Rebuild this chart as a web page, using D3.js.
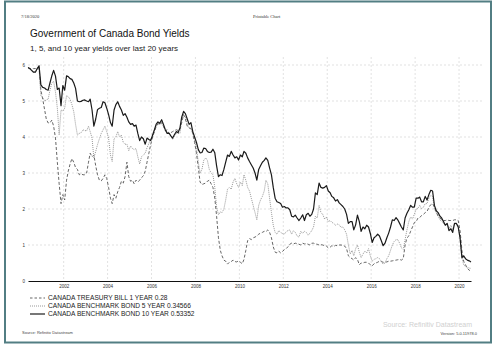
<!DOCTYPE html>
<html>
<head>
<meta charset="utf-8">
<script src="https://cdn.jsdelivr.net/npm/d3@7"></script>
<style>
  body { margin: 0; background: #fff; }
  svg { display: block; font-family: "Liberation Sans", Arial, sans-serif; }
</style>
</head>
<body>
<svg id="svg"></svg>
<script>
var width = 500;
var height = 353;

// monthly readings, May 2000 .. Jul 2020
var startDate = new Date(2000, 4, 18);

var yield10 = [
  5.93,5.9,5.85,5.8,5.8,5.9,5.98,5.45,5.38,5.36, 5.32,5.3,5.5,5.7,5.85,5.69,5.32,5.36,4.87,5.43,
  5.3,5.7,5.68,5.62,5.6,5.5,5.35,5.0,4.98,4.99, 5.02,5.03,5.0,4.98,5.05,4.75,4.3,4.5,4.76,4.8,
  4.82,4.98,4.95,4.8,4.62,4.4,4.3,4.75,
  4.9,4.98,4.85,4.75,4.6,4.65,4.55,4.42,4.35,4.37, 4.3,4.33,4.1,3.9,4.0,3.95,3.8,3.97,3.93,3.9,
  4.05,4.2,4.35,4.42,4.38,4.48,4.35,4.2,4.1,4.11, 4.03,3.97,4.07,4.15,4.12,4.25,4.55,4.71,4.65,4.5,
  4.35,4.4,4.15,4.0,3.85,3.65,3.56,3.57,
  3.69,3.68,3.6,3.57,3.58,3.66,3.56,3.2,2.9,2.95, 2.93,3.1,3.3,3.5,3.46,3.6,3.5,3.42,3.45,3.36,
  3.5,3.45,3.6,3.55,3.42,3.32,3.23,3.14,3.0,2.8, 3.1,3.2,3.3,3.35,3.42,3.35,3.14,2.95,2.6,2.3,
  2.2,2.18,2.15,2.05,2.07,2.03,2.03,1.98,
  1.8,1.78,1.83,1.75,1.68,1.75,1.84,1.68,1.84,1.88, 1.8,1.85,2.0,2.45,2.4,2.72,2.6,2.58,2.6,2.65,
  2.5,2.45,2.35,2.31,2.22,2.26,2.17,2.12,2.07,2.0, 1.85,1.6,1.65,1.65,1.42,1.56,1.83,1.65,1.38,1.5,
  1.45,1.55,1.5,1.32,1.07,1.2,1.24,1.3,
  1.25,1.12,0.98,1.05,1.2,1.33,1.5,1.7,1.68,1.76, 1.7,1.6,1.5,1.42,1.75,1.88,1.98,2.1,2.05,2.05,
  2.3,2.3,2.33,2.2,2.2,2.35,2.25,2.4,2.52,2.5, 2.1,1.95,1.9,1.8,1.75,1.65,1.55,1.6,1.4,1.45,
  1.35,1.6,1.6,1.5,1.2,0.65,0.7,0.62,0.58,0.56, 0.53
];

var yield5 = [
  5.92,5.88,5.84,5.8,5.82,5.88,5.9,5.15,5.1,5.0, 5.03,5.05,5.3,5.5,5.55,5.25,4.8,4.06,4.75,4.72,
  4.8,5.15,5.12,5.05,4.9,4.7,4.35,4.05,4.1,4.12, 4.2,4.18,4.17,4.3,4.15,3.97,3.42,3.6,3.79,3.95,
  4.1,4.2,4.3,4.15,3.97,3.5,3.32,3.95,
  4.0,4.15,4.0,4.05,3.85,3.8,3.8,3.62,3.75,3.68, 3.65,3.68,3.45,3.25,3.45,3.5,3.55,3.7,3.82,3.97,
  4.0,4.18,4.3,4.38,4.35,4.37,4.3,4.2,4.12,4.13, 4.02,3.93,4.03,4.1,4.1,4.1,4.45,4.62,4.55,4.35,
  4.25,4.25,4.1,3.9,3.7,3.3,3.0,3.1,
  3.35,3.42,3.35,3.1,3.0,2.95,2.6,2.05,1.84,1.92, 1.9,2.0,2.25,2.55,2.6,2.55,2.75,2.85,2.7,2.6,
  2.75,2.65,2.95,2.8,2.6,2.5,2.3,2.1,1.9,1.7, 2.1,2.25,2.35,2.5,2.8,2.7,2.3,1.9,1.55,1.35,
  1.3,1.4,1.35,1.32,1.3,1.37,1.4,1.42,
  1.3,1.4,1.35,1.25,1.22,1.38,1.32,1.38,1.35,1.27, 1.33,1.4,1.5,1.8,1.75,2.1,1.9,1.85,1.72,1.78,
  1.65,1.68,1.63,1.6,1.55,1.58,1.56,1.49,1.5,1.42, 1.3,1.0,0.75,0.85,0.7,0.9,1.0,0.8,0.65,0.75,
  0.83,0.78,0.9,0.7,0.55,0.6,0.62,0.65,
  0.62,0.55,0.47,0.5,0.62,0.7,0.85,1.0,1.1,1.15, 1.15,1.05,0.92,0.88,1.15,1.42,1.65,1.78,1.72,1.85,
  2.0,2.02,2.1,2.0,2.05,2.15,2.15,2.3,2.38,2.35, 2.0,1.9,1.8,1.7,1.65,1.6,1.55,1.6,1.45,1.55,
  1.42,1.6,1.58,1.55,1.2,0.65,0.45,0.4,0.38,0.36, 0.35
];

var yield1 = [
  5.92,5.9,5.9,5.9,5.9,5.92,5.92,5.3,5.05,4.76, 4.5,4.39,4.39,4.47,4.3,3.97,3.3,2.7,2.15,2.4,
  2.25,2.8,3.05,3.25,3.4,3.3,3.15,3.1,2.95,2.98, 2.95,2.95,3.0,3.3,3.55,3.45,3.5,3.2,2.95,2.8,
  2.78,2.85,2.95,2.85,2.6,2.3,2.15,2.4,
  2.3,2.48,2.6,2.77,2.72,2.9,3.3,2.9,2.77,2.8, 2.7,2.8,2.75,2.8,2.87,2.92,3.05,3.3,3.55,3.79,
  4.0,4.15,4.28,4.37,4.35,4.4,4.3,4.17,4.2,4.08, 4.12,4.15,4.18,4.2,4.18,4.2,4.4,4.62,4.5,4.3,
  4.25,4.23,4.1,3.85,3.55,3.15,2.75,2.68,
  2.7,2.72,2.77,2.8,2.7,2.6,2.3,1.8,1.2,0.85, 0.7,0.58,0.55,0.47,0.52,0.54,0.58,0.54,0.53,0.56,
  0.52,0.48,0.6,0.85,1.12,1.18,1.15,1.2,1.22,1.25, 1.3,1.33,1.35,1.38,1.37,1.42,1.35,1.2,0.95,0.8,
  0.78,0.83,0.78,0.82,0.87,0.9,0.95,1.02,
  1.05,1.03,1.05,1.04,1.02,1.0,1.05,1.03,1.04,1.02, 1.0,1.05,1.05,1.03,1.02,1.0,1.01,1.0,0.98,0.97,
  0.92,0.94,0.98,0.96,0.99,0.98,1.0,1.0,0.99,0.97, 0.9,0.7,0.65,0.62,0.58,0.65,0.6,0.45,0.5,0.5,
  0.52,0.52,0.5,0.45,0.42,0.48,0.5,0.52,
  0.55,0.54,0.52,0.52,0.53,0.55,0.55,0.56,0.57,0.58, 0.59,0.6,0.58,0.62,1.0,1.2,1.25,1.38,1.5,1.62,
  1.65,1.75,1.76,1.82,1.85,1.9,1.93,2.05,2.12,2.15, 2.05,1.92,1.8,1.75,1.7,1.68,1.68,1.7,1.68,1.68,
  1.68,1.7,1.7,1.68,1.4,0.85,0.55,0.45,0.35,0.3, 0.28
];

var dates = yield10.map((d, i) => d3.timeMonth.offset(startDate, i));

var yTicks = [0, 1, 2, 3, 4, 5, 6];
var xTickYears = [2002, 2004, 2006, 2008, 2010, 2012, 2014, 2016, 2018, 2020];

var series = [
  { name: "CANADA TREASURY BILL 1 YEAR 0.28", values: yield1, stroke: "#555", width: 0.9, dash: "3,2" },
  { name: "CANADA BENCHMARK BOND 5 YEAR 0.34566", values: yield5, stroke: "#8c8c8c", width: 0.9, dash: "1,1" },
  { name: "CANADA BENCHMARK BOND 10 YEAR 0.53352", values: yield10, stroke: "#1a1a1a", width: 1.2, dash: null }
];

var svg = d3.select("#svg")
    .attr("width", width)
    .attr("height", height)
    .attr("viewBox", [0, 0, width, height]);

// page frame
svg.append("rect")
    .attr("x", 5).attr("y", 1.5)
    .attr("width", 486).attr("height", 341)
    .attr("fill", "none")
    .attr("stroke", "#527e83")
    .attr("stroke-width", 2);

// header bits
svg.append("text").attr("x", 21).attr("y", 18)
    .attr("font-family", "Liberation Serif").attr("font-size", 4.5).attr("fill", "#333")
    .text("7/18/2020");
svg.append("text").attr("x", 253).attr("y", 18)
    .attr("font-family", "Liberation Serif").attr("font-size", 4.5).attr("fill", "#333")
    .text("Printable Chart");

svg.append("text").attr("x", 30).attr("y", 37)
    .attr("font-size", 10).attr("fill", "#111")
    .text("Government of Canada Bond Yields");
svg.append("text").attr("x", 30).attr("y", 51)
    .attr("font-size", 8).attr("fill", "#222")
    .text("1, 5, and 10 year yields over last 20 years");

// scales
var x = d3.scaleTime()
    .domain([dates[0], dates[dates.length - 1]])
    .range([28, 471]);
var y = d3.scaleLinear()
    .domain([0, 6])
    .range([281, 65]);

// grid
var grid = svg.append("g")
    .attr("stroke", "#cfcfcf")
    .attr("stroke-width", 0.6)
    .attr("stroke-dasharray", "2,2");
grid.selectAll(".hg")
  .data(yTicks.filter(d => d > 0))
  .join("line")
    .attr("x1", 28).attr("x2", 483)
    .attr("y1", d => y(d)).attr("y2", d => y(d));
grid.selectAll(".vg")
  .data(xTickYears)
  .join("line")
    .attr("x1", d => x(new Date(d, 0, 1))).attr("x2", d => x(new Date(d, 0, 1)))
    .attr("y1", 57).attr("y2", y(0));

// axes
var yAxis = svg.append("g")
    .attr("transform", "translate(28,0)")
    .call(d3.axisLeft(y).tickValues(yTicks).tickFormat(d3.format("d")).tickSize(0).tickPadding(3));
yAxis.select(".domain").remove();
yAxis.selectAll("text").attr("font-size", 4.5).attr("fill", "#333")
    .attr("font-family", "Liberation Sans");

var xAxis = svg.append("g")
    .attr("transform", "translate(0," + y(0) + ")")
    .call(d3.axisBottom(x)
      .tickValues(xTickYears.map(d => new Date(d, 0, 1)))
      .tickFormat(d3.timeFormat("%Y"))
      .tickSize(0).tickPadding(4));
xAxis.select(".domain").attr("stroke", "#111").attr("stroke-width", 1);
xAxis.selectAll("text").attr("font-size", 4.5).attr("fill", "#333")
    .attr("font-family", "Liberation Sans");

// lines
var line = d3.line()
    .x((d, i) => x(dates[i]))
    .y(d => y(d));

svg.append("g")
  .selectAll("path")
  .data(series)
  .join("path")
    .attr("fill", "none")
    .attr("stroke", d => d.stroke)
    .attr("stroke-width", d => d.width)
    .attr("stroke-dasharray", d => d.dash)
    .attr("stroke-linejoin", "round")
    .attr("d", d => line(d.values));

// legend
var legend = svg.append("g")
  .selectAll("g")
  .data(series)
  .join("g")
    .attr("transform", (d, i) => "translate(30," + (298 + i * 8) + ")");
legend.append("line")
    .attr("x1", 0).attr("x2", 15)
    .attr("stroke", (d, i) => i == 2 ? "#777" : d.stroke)
    .attr("stroke-width", (d, i) => i == 2 ? 2 : 0.9)
    .attr("stroke-dasharray", d => d.dash == "3,2" ? "2.5,2" : d.dash);
legend.append("text")
    .attr("x", 18).attr("y", 2.4)
    .attr("font-size", 6.6).attr("fill", "#222")
    .text(d => d.name);

// footer
svg.append("text").attr("x", 22).attr("y", 334)
    .attr("font-size", 4).attr("fill", "#444")
    .text("Source: Refinitiv Datastream");
svg.append("text").attr("x", 472).attr("y", 327).attr("text-anchor", "end")
    .attr("font-size", 7).attr("fill", "#d0d0d0")
    .text("Source: Refinitiv Datastream");
svg.append("text").attr("x", 477).attr("y", 335).attr("text-anchor", "end")
    .attr("font-size", 4).attr("fill", "#444")
    .text("Version: 5.0.11978.0");
</script>
</body>
</html>
